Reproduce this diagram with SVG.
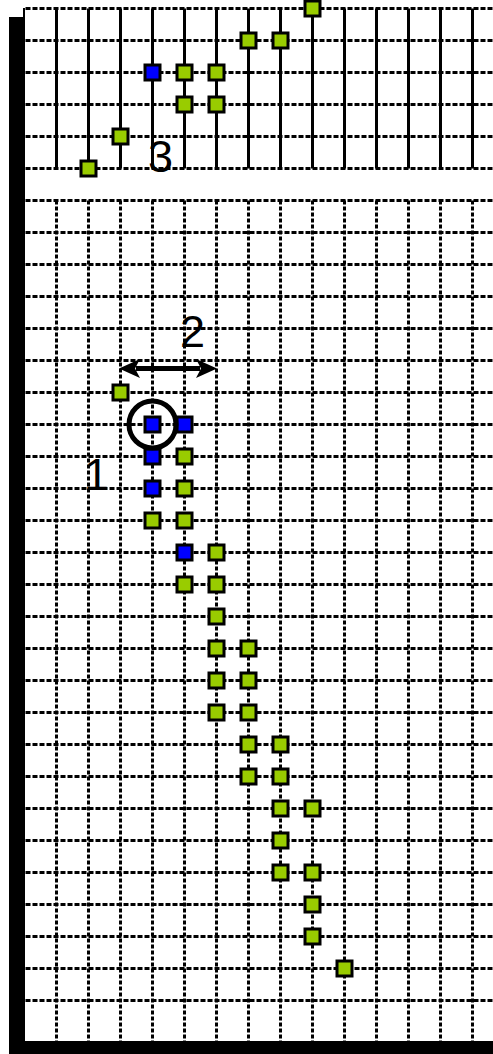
<svg xmlns="http://www.w3.org/2000/svg" width="493" height="1054" viewBox="0 0 493 1054">
<style>
.h{stroke:#000;stroke-width:3;stroke-dasharray:5,2;fill:none}
.vs{stroke:#000;stroke-width:3;fill:none}
.vd{stroke:#000;stroke-width:3;stroke-dasharray:4,2;fill:none}
.g{fill:#99cc00;stroke:#000;stroke-width:3}
.b{fill:#0000ff;stroke:#000;stroke-width:3}
.lbl{font-family:"Liberation Sans",Arial,sans-serif;font-size:45px;fill:#000}
</style>
<defs>
<marker id="ah" viewBox="0 0 21 19" refX="4" refY="9.5" markerWidth="21" markerHeight="19" markerUnits="userSpaceOnUse" orient="auto-start-reverse">
<path d="M21,9.5 L0,0 L5,9.5 L0,19 Z" fill="#000"/>
</marker>
</defs>
<rect width="493" height="1054" fill="#fff"/>
<g id="grid">
<g transform="translate(0.5,0.5)">
<path class="h" d="M25,8H493M25,40H493M25,72H493M25,104H493M25,136H493M25,168H493"/>
<path class="h" d="M25,200H493M25,232H493M25,264H493M25,296H493M25,328H493M25,360H493M25,392H493M25,424H493M25,456H493M25,488H493M25,520H493M25,552H493M25,584H493M25,616H493M25,648H493M25,680H493M25,712H493M25,744H493M25,776H493M25,808H493M25,840H493M25,872H493M25,904H493M25,936H493M25,968H493M25,1000H493"/>
<path class="vs" d="M56,8V168M88,8V168M120,8V168M152,8V168M184,8V168M216,8V168M248,8V168M280,8V168M312,8V168M344,8V168M376,8V168M408,8V168M440,8V168M472,8V168"/>
<path class="vd" d="M56,200V1041M88,200V1041M120,200V1041M152,200V1041M184,200V1041M216,200V1041M248,200V1041M280,200V1041M312,200V1041M344,200V1041M376,200V1041M408,200V1041M440,200V1041M472,200V1041"/>
</g>
<path d="M24,8V17" stroke="#000" stroke-width="2"/>
<rect x="9" y="17" width="16" height="1037" fill="#000"/>
<rect x="9" y="1041" width="484" height="13" fill="#000"/>
</g>
<g id="top-nodes">
<rect class="g" x="305" y="1" width="15" height="15"/>
<rect class="g" x="241" y="33" width="15" height="15"/>
<rect class="g" x="273" y="33" width="15" height="15"/>
<rect class="b" x="145" y="65" width="15" height="15"/>
<rect class="g" x="177" y="65" width="15" height="15"/>
<rect class="g" x="209" y="65" width="15" height="15"/>
<rect class="g" x="177" y="97" width="15" height="15"/>
<rect class="g" x="209" y="97" width="15" height="15"/>
<rect class="g" x="113" y="129" width="15" height="15"/>
<rect class="g" x="81" y="161" width="15" height="15"/>
</g>
<g id="bottom-nodes">
<rect class="g" x="113" y="385" width="15" height="15"/>
<rect class="b" x="145" y="417" width="15" height="15"/>
<rect class="b" x="177" y="417" width="15" height="15"/>
<rect class="b" x="145" y="449" width="15" height="15"/>
<rect class="g" x="177" y="449" width="15" height="15"/>
<rect class="b" x="145" y="481" width="15" height="15"/>
<rect class="g" x="177" y="481" width="15" height="15"/>
<rect class="g" x="145" y="513" width="15" height="15"/>
<rect class="g" x="177" y="513" width="15" height="15"/>
<rect class="b" x="177" y="545" width="15" height="15"/>
<rect class="g" x="209" y="545" width="15" height="15"/>
<rect class="g" x="177" y="577" width="15" height="15"/>
<rect class="g" x="209" y="577" width="15" height="15"/>
<rect class="g" x="209" y="609" width="15" height="15"/>
<rect class="g" x="209" y="641" width="15" height="15"/>
<rect class="g" x="241" y="641" width="15" height="15"/>
<rect class="g" x="209" y="673" width="15" height="15"/>
<rect class="g" x="241" y="673" width="15" height="15"/>
<rect class="g" x="209" y="705" width="15" height="15"/>
<rect class="g" x="241" y="705" width="15" height="15"/>
<rect class="g" x="241" y="737" width="15" height="15"/>
<rect class="g" x="273" y="737" width="15" height="15"/>
<rect class="g" x="241" y="769" width="15" height="15"/>
<rect class="g" x="273" y="769" width="15" height="15"/>
<rect class="g" x="273" y="801" width="15" height="15"/>
<rect class="g" x="305" y="801" width="15" height="15"/>
<rect class="g" x="273" y="833" width="15" height="15"/>
<rect class="g" x="273" y="865" width="15" height="15"/>
<rect class="g" x="305" y="865" width="15" height="15"/>
<rect class="g" x="305" y="897" width="15" height="15"/>
<rect class="g" x="305" y="929" width="15" height="15"/>
<rect class="g" x="337" y="961" width="15" height="15"/>
</g>
<g id="highlight">
<circle cx="152.5" cy="424.5" r="23.5" fill="none" stroke="#000" stroke-width="5"/>
</g>
<g id="connectors">
<line x1="136" y1="368.5" x2="200" y2="368.5" stroke="#000" stroke-width="5" marker-start="url(#ah)" marker-end="url(#ah)"/>
</g>
<g id="labels">
<text class="lbl" x="84" y="490">1</text>
<text class="lbl" x="180" y="347">2</text>
<text class="lbl" x="148" y="172">3</text>
</g>
</svg>
